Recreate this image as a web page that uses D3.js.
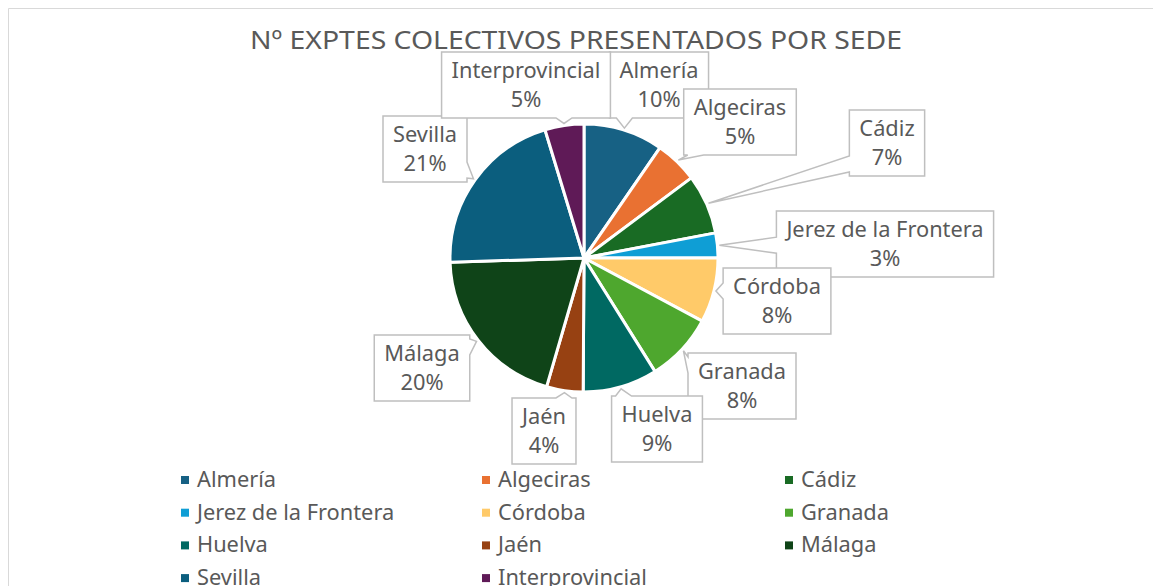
<!DOCTYPE html>
<html>
<head>
<meta charset="utf-8">
<script src="https://cdn.jsdelivr.net/npm/d3@7"></script>
<style>
  body { margin: 0; background: #fff; }
  text { font-family: "Noto Sans", sans-serif; fill: #595959; }
</style>
</head>
<body>
<script>
// data (share of expedientes per sede, in %)
var sedes = ["Almería", "Algeciras", "Cádiz", "Jerez de la Frontera", "Córdoba",
             "Granada", "Huelva", "Jaén", "Málaga", "Sevilla", "Interprovincial"];
var valores = [9.6, 5.2, 7.2, 3.0, 7.8, 8.3, 9.0, 4.4, 20.0, 20.8, 4.7];
var colores = ["#176184", "#e97132", "#196b24", "#0f9ed5", "#ffca69",
               "#4ea72e", "#006962", "#974112", "#0f4418", "#0b5e7e", "#5f1a57"];

// callout placement: box centre x, box top y, side the tail leaves from
var callouts = [
  [659, 52, "bottom"], [740, 89, "bottom"], [887, 110, "left"], [885, 211, "left"],
  [777, 268, "left"], [742, 353, "left"], [657, 396, "top"], [544, 398, "top"],
  [422, 335, "right"], [425, 116, "right"], [526, 52, "bottom"]
];

var width = 1153, height = 586;
var cx = 584, cy = 258, radius = 134;

var svg = d3.select("body").append("svg")
  .attr("width", width)
  .attr("height", height);

// chart frame (only top and left edges show)
svg.append("path")
  .attr("d", "M8.5,586 L8.5,8.5 L1153,8.5")
  .attr("fill", "none")
  .attr("stroke", "#d9d9d9")
  .attr("stroke-width", 1);

// title
svg.append("text")
  .attr("x", 576)
  .attr("y", 49)
  .attr("text-anchor", "middle")
  .attr("font-size", 26)
  .attr("textLength", 652)
  .attr("lengthAdjust", "spacingAndGlyphs")
  .text("Nº EXPTES COLECTIVOS PRESENTADOS POR SEDE");

var datos = sedes.map(function (s, i) { return { sede: s, valor: valores[i], color: colores[i], i: i }; });
var total = d3.sum(valores);
var pct = d3.format(".0%");

var pie = d3.pie().sort(null).value(function (d) { return d.valor; });
var arcs = pie(datos);
var arc = d3.arc().innerRadius(0).outerRadius(radius);

var main = svg.append("g").attr("transform", "translate(" + cx + "," + cy + ")");

main.selectAll("path.slice")
  .data(arcs)
  .enter().append("path")
  .attr("class", "slice")
  .attr("d", arc)
  .attr("fill", function (d) { return d.data.color; })
  .attr("stroke", "#fff")
  .attr("stroke-width", 3)
  .attr("stroke-linejoin", "round");

// callout boxes with tails
function calloutPath(x, y, w, h, tip, side) {
  var hw = 8, m = 12, b;
  if (side === "top" || side === "bottom") {
    b = Math.max(x + m, Math.min(x + w - m, tip[0]));
  } else {
    b = Math.max(y + m, Math.min(y + h - m, tip[1]));
  }
  var p = [];
  p.push([x, y]);
  if (side === "top") p.push([b - hw, y], tip, [b + hw, y]);
  p.push([x + w, y]);
  if (side === "right") p.push([x + w, b - hw], tip, [x + w, b + hw]);
  p.push([x + w, y + h]);
  if (side === "bottom") p.push([b + hw, y + h], tip, [b - hw, y + h]);
  p.push([x, y + h]);
  if (side === "left") p.push([x, b + hw], tip, [x, b - hw]);
  return "M" + p.map(function (q) { return q[0] + "," + q[1]; }).join("L") + "Z";
}

var labels = svg.append("g");
arcs.forEach(function (a, i) {
  var c = callouts[i];
  var g = labels.append("g");
  var path = g.append("path")
    .attr("fill", "#fff")
    .attr("stroke", "#bfbfbf")
    .attr("stroke-width", 1.5);
  var t1 = g.append("text")
    .attr("x", c[0]).attr("y", c[1] + 26)
    .attr("text-anchor", "middle")
    .attr("font-size", 21.8)
    .text(a.data.sede);
  var t2 = g.append("text")
    .attr("x", c[0]).attr("y", c[1] + 55)
    .attr("text-anchor", "middle")
    .attr("font-size", 21.8)
    .text(pct(a.data.valor / total));
  var w = Math.max(t1.node().getComputedTextLength(), t2.node().getComputedTextLength()) + 20;
  var mid = (a.startAngle + a.endAngle) / 2;
  var tip = [cx + (radius + 2) * Math.sin(mid), cy - (radius + 2) * Math.cos(mid)];
  path.attr("d", calloutPath(c[0] - w / 2, c[1], w, 66, tip, c[2]));
});

// legend, three columns
var legendX = [181, 482, 785];
var legendY = d3.scaleLinear().domain([0, 1]).range([480, 512.7]);

var legend = svg.selectAll("g.legend")
  .data(datos)
  .enter().append("g")
  .attr("class", "legend")
  .attr("transform", function (d) {
    return "translate(" + legendX[d.i % 3] + "," + legendY(Math.floor(d.i / 3)) + ")";
  });

legend.append("rect")
  .attr("x", 0).attr("y", -4)
  .attr("width", 8).attr("height", 8)
  .attr("fill", function (d) { return d.color; });

legend.append("text")
  .attr("x", 16).attr("y", 7)
  .attr("font-size", 21.8)
  .text(function (d) { return d.sede; });
</script>
</body>
</html>
